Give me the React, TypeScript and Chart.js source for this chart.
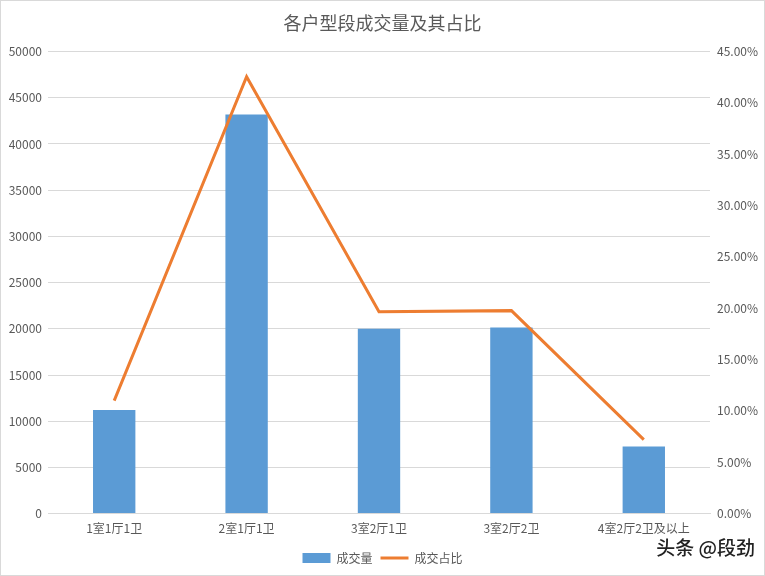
import React, { useEffect, useRef } from "react";
import { Chart, registerables } from "chart.js";

Chart.register(...registerables);

const categories = ["1室1厅1卫", "2室1厅1卫", "3室2厅1卫", "3室2厅2卫", "4室2厅2卫及以上"];
const volumes = [11200, 43200, 20000, 20150, 7250];
const shares = [0.110, 0.4255, 0.1967, 0.1977, 0.072];
const titleText = "各户型段成交量及其占比";
const volumeLabel = "成交量";
const shareLabel = "成交占比";
const watermark = "头条 @段劲";

const FONT = '"Noto Sans CJK SC", "Noto Sans", sans-serif';
const TEXT = "#595959";

export default function App() {
  const ref = useRef<HTMLCanvasElement | null>(null);
  useEffect(() => {
    document.body.style.margin = "0";
    const canvas = ref.current!;
    const extras = {
      id: "extras",
      beforeDraw(chart: any) {
        const ctx = chart.ctx;
        ctx.save();
        ctx.fillStyle = "#ffffff";
        ctx.fillRect(0, 0, chart.width, chart.height);
        ctx.strokeStyle = "#D9D9D9";
        ctx.lineWidth = 1;
        ctx.strokeRect(0.5, 0.5, chart.width - 1, chart.height - 1);
        ctx.restore();
      },
      afterDraw(chart: any) {
        const ctx = chart.ctx;
        ctx.save();
        ctx.font = `500 19px ${FONT}`;
        ctx.textAlign = "right";
        ctx.textBaseline = "middle";
        ctx.lineWidth = 3;
        ctx.strokeStyle = "rgba(255,255,255,0.9)";
        ctx.strokeText(watermark, 755, 548);
        ctx.fillStyle = "#222222";
        ctx.fillText(watermark, 755, 548);
        ctx.restore();
      },
    };
    const chart = new Chart(canvas, {
      type: "bar",
      data: {
        labels: categories,
        datasets: [
          {
            type: "line",
            label: shareLabel,
            data: shares,
            yAxisID: "y1",
            borderColor: "#ED7D31",
            backgroundColor: "#ED7D31",
            borderWidth: 3,
            pointRadius: 0,
            tension: 0,
            order: 0,
            pointStyle: "line",
          } as any,
          {
            type: "bar",
            label: volumeLabel,
            data: volumes,
            yAxisID: "y",
            backgroundColor: "#5B9BD5",
            borderWidth: 0,
            barPercentage: 0.32,
            categoryPercentage: 1,
            order: 1,
            pointStyle: "rect",
          } as any,
        ],
      },
      options: {
        responsive: false,
        animation: false,
        layout: { padding: { top: 0, bottom: 2, left: 0, right: 0 } },
        plugins: {
          title: {
            display: true,
            text: titleText,
            color: TEXT,
            font: { family: FONT, size: 18, weight: "normal" },
            padding: { top: 12, bottom: 18 },
          },
          legend: {
            position: "bottom",
            reverse: true,
            labels: {
              usePointStyle: true,
              pointStyleWidth: 28,
              boxHeight: 10,
              color: TEXT,
              font: { family: FONT, size: 12 },
              padding: 8,
            },
          },
          tooltip: { enabled: false },
        },
        scales: {
          x: {
            grid: { display: false, drawTicks: false },
            border: { display: true, color: "#D9D9D9" },
            ticks: { color: TEXT, font: { family: FONT, size: 12 }, padding: 8, maxRotation: 0 },
          },
          y: {
            position: "left",
            min: 0,
            max: 50000,
            grid: { color: "#D9D9D9", drawTicks: false },
            border: { display: false },
            ticks: {
              stepSize: 5000,
              color: TEXT,
              font: { family: FONT, size: 12 },
              padding: 6,
              callback: (v: any) => String(v),
            },
            afterFit(scale: any) {
              scale.width = 48;
            },
          },
          y1: {
            position: "right",
            min: 0,
            max: 0.45,
            grid: { display: false, drawTicks: false },
            border: { display: false },
            ticks: {
              stepSize: 0.05,
              color: TEXT,
              font: { family: FONT, size: 12 },
              padding: 7,
              callback: (v: any) => (Number(v) * 100).toFixed(2) + "%",
            },
            afterFit(scale: any) {
              scale.width = 55;
            },
          },
        },
      } as any,
      plugins: [extras],
    });
    return () => chart.destroy();
  }, []);
  return (
    <div style={{ width: 765, height: 576 }}>
      <canvas ref={ref} width={765} height={576} />
    </div>
  );
}
